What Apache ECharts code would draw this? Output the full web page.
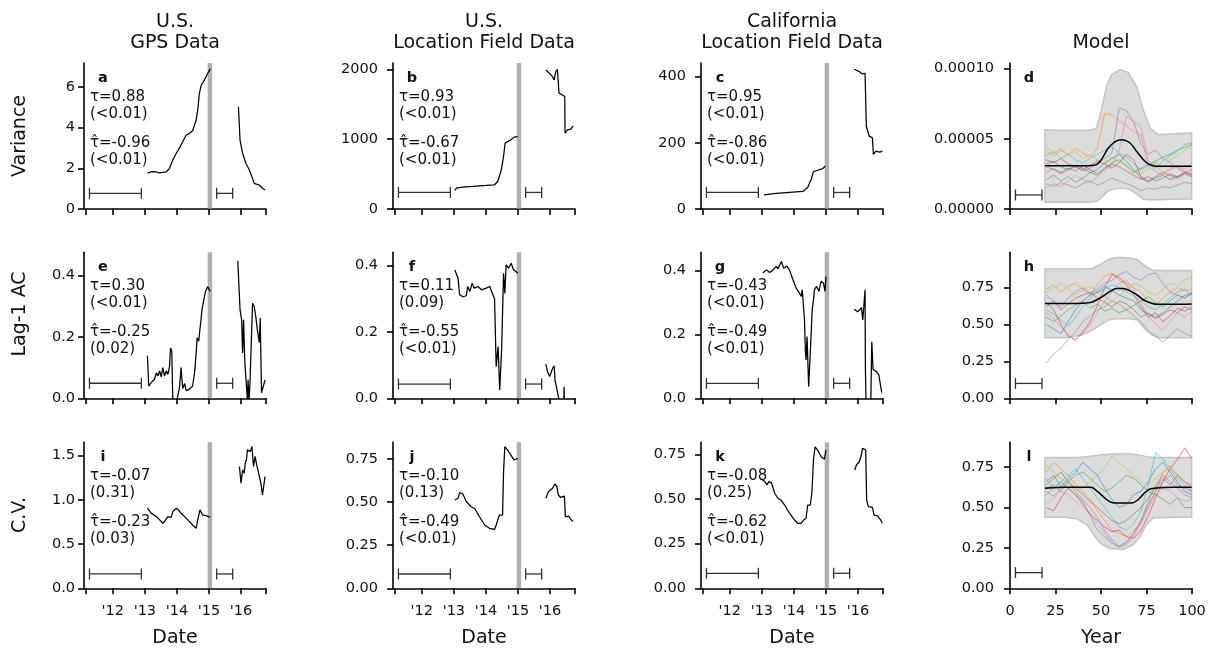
<!DOCTYPE html>
<html><head><meta charset="utf-8">
<script src="https://cdn.jsdelivr.net/npm/echarts@6/dist/echarts.min.js"></script>
<style>html,body{margin:0;padding:0;background:#fff}#c{width:1216px;height:649px}</style>
</head><body><div id="c"></div>
<script>
// ---------------- DATA ----------------
const colTitles1 = ['U.S.', 'U.S.', 'California', ''];
const colTitles2 = ['GPS Data', 'Location Field Data', 'Location Field Data', 'Model'];
const rowLabels = ['Variance', 'Lag-1 AC', 'C.V.'];
const xLabels = ['Date', 'Date', 'Date', 'Year'];
const letters = ['a','b','c','d','e','f','g','h','i','j','k','l'];

const dateRange = [2011.1, 2016.78];
const dateTicks = [2011.15, 2012, 2013, 2014, 2015, 2016, 2016.78];
const dateTickLabels = [2012, 2013, 2014, 2015, 2016];
const yearTicks = [0, 25, 50, 75, 100];
const outbreakBand = [2014.96, 2015.10];
const winTime = [[2011.27, 2012.89], [2015.24, 2015.74]];
const winModel = [[3, 17.6]];
const winLevels = [0.77, 237, 50, 1.0, 0.049, 0.043, 0.047, 0.101, 0.162, 0.083, 0.084, 0.097];

const tauVals = ['τ=0.88','τ=0.93','τ=0.95','', 'τ=0.30','τ=0.11','τ=-0.43','', 'τ=-0.07','τ=-0.10','τ=-0.08',''];
const tauPs = ['(<0.01)','(<0.01)','(<0.01)','', '(<0.01)','(0.09)','(<0.01)','', '(0.31)','(0.13)','(0.25)',''];
const tauHatVals = ['τ̂=-0.96','τ̂=-0.67','τ̂=-0.86','', 'τ̂=-0.25','τ̂=-0.55','τ̂=-0.49','', 'τ̂=-0.23','τ̂=-0.49','τ̂=-0.62',''];
const tauHatPs = ['(<0.01)','(<0.01)','(<0.01)','', '(0.02)','(<0.01)','(<0.01)','', '(0.03)','(<0.01)','(<0.01)',''];

const yTicksA = [0, 2, 4, 6];
const yTicksB = [0, 1000, 2000];
const yTicksC = [0, 200, 400];
const yTicksD = [0, 5, 10]; // units of 1e-5
const yTicksE = [0, 0.2, 0.4];
const yTicksH = [0, 0.25, 0.5, 0.75];
const yTicksI = [0, 0.5, 1.0, 1.5];
const yTicksJ = [0, 0.25, 0.5, 0.75];

// Variance
const aSeg1 = [[2013.08,1.76],[2013.20,1.84],[2013.36,1.82],[2013.46,1.78],[2013.55,1.80],[2013.67,1.83],[2013.77,2.0],[2013.87,2.41],[2013.98,2.74],[2014.08,2.99],[2014.18,3.31],[2014.29,3.64],[2014.39,3.72],[2014.49,3.85],[2014.60,4.38],[2014.65,4.87],[2014.70,5.69],[2014.76,6.10],[2014.86,6.35],[2014.95,6.64],[2015.04,6.89]];
const aSeg2 = [[2015.92,5.03],[2015.97,3.39],[2016.05,2.74],[2016.15,2.25],[2016.26,1.92],[2016.34,1.59],[2016.41,1.26],[2016.48,1.22],[2016.57,1.18],[2016.67,1.02],[2016.75,0.93]];
const bSeg1 = [[2013.03,266],[2013.08,300],[2013.28,314],[2013.59,323],[2014.01,337],[2014.27,347],[2014.37,394],[2014.48,561],[2014.55,751],[2014.60,943],[2014.68,966],[2014.78,990],[2014.88,1029],[2014.99,1037]];
const bSeg2 = [[2015.87,1990],[2015.98,1943],[2016.08,1894],[2016.13,1847],[2016.18,1966],[2016.23,2000],[2016.26,1800],[2016.28,1657],[2016.39,1633],[2016.46,1609],[2016.47,1086],[2016.54,1133],[2016.65,1143],[2016.72,1190]];
const cSeg1 = [[2013.06,43],[2013.45,47],[2013.86,50],[2014.28,53],[2014.43,65],[2014.54,90],[2014.61,113],[2014.74,117],[2014.90,122],[2014.98,130]];
const cSeg2 = [[2015.88,422],[2016.04,415],[2016.14,408],[2016.22,410],[2016.26,250],[2016.35,220],[2016.45,215],[2016.48,165],[2016.56,175],[2016.68,172],[2016.76,175]];
// Lag-1 AC
const eSeg1 = [[2013.08,0.139],[2013.12,0.040],[2013.20,0.051],[2013.30,0.062],[2013.36,0.083],[2013.41,0.073],[2013.46,0.089],[2013.51,0.070],[2013.56,0.100],[2013.61,0.073],[2013.67,0.089],[2013.72,0.078],[2013.77,0.105],[2013.80,0.164],[2013.84,0.154],[2013.87,0.0],[2013.98,-0.02],[2014.03,0.010],[2014.08,0.035],[2014.13,0.100],[2014.18,0.032],[2014.24,0.048],[2014.29,0.025],[2014.39,0.030],[2014.49,0.040],[2014.55,0.083],[2014.60,0.148],[2014.63,0.197],[2014.68,0.186],[2014.75,0.256],[2014.79,0.294],[2014.84,0.300],[2014.89,0.348],[2014.96,0.364],[2015.01,0.354],[2015.04,0.348]];
const eSeg2 = [[2015.90,0.448],[2015.97,0.289],[2016.02,0.256],[2016.05,0.148],[2016.08,0.256],[2016.12,0.116],[2016.17,0.040],[2016.20,-0.01],[2016.22,0.060],[2016.25,-0.01],[2016.28,0.050],[2016.36,0.310],[2016.41,0.300],[2016.46,0.267],[2016.51,0.224],[2016.57,0.181],[2016.60,0.262],[2016.64,0.018],[2016.70,0.018],[2016.75,0.060]];
const fSeg1 = [[2013.03,0.387],[2013.13,0.362],[2013.18,0.312],[2013.28,0.306],[2013.39,0.309],[2013.43,0.337],[2013.50,0.322],[2013.57,0.347],[2013.64,0.332],[2013.75,0.337],[2013.86,0.327],[2014.01,0.332],[2014.12,0.337],[2014.20,0.316],[2014.27,0.300],[2014.32,0.095],[2014.38,0.156],[2014.43,0.025],[2014.49,0.146],[2014.55,0.377],[2014.59,0.316],[2014.63,0.402],[2014.71,0.392],[2014.79,0.407],[2014.86,0.387],[2014.94,0.382],[2014.99,0.377]];
const fSeg2 = [[2015.87,0.103],[2015.92,0.081],[2015.99,0.066],[2016.08,0.090],[2016.13,0.098],[2016.16,0.050],[2016.20,0.035],[2016.26,0.005],[2016.30,-0.01],[2016.43,-0.01],[2016.44,0.035],[2016.45,-0.01]];
const gSeg1 = [[2013.03,0.392],[2013.14,0.402],[2013.24,0.394],[2013.35,0.402],[2013.45,0.413],[2013.50,0.405],[2013.61,0.428],[2013.68,0.407],[2013.78,0.414],[2013.86,0.402],[2013.97,0.371],[2014.07,0.345],[2014.17,0.329],[2014.23,0.319],[2014.26,0.340],[2014.33,0.245],[2014.36,0.141],[2014.38,0.120],[2014.41,0.193],[2014.46,0.036],[2014.51,0.141],[2014.57,0.277],[2014.61,0.308],[2014.64,0.340],[2014.71,0.350],[2014.78,0.335],[2014.85,0.366],[2014.92,0.361],[2014.97,0.335],[2015.00,0.381]];
const gSeg2 = [[2015.88,0.279],[2015.99,0.271],[2016.05,0.266],[2016.11,0.284],[2016.15,0.245],[2016.19,0.250],[2016.22,0.340],[2016.23,0.099],[2016.25,-0.01],[2016.40,-0.01],[2016.43,0.177],[2016.47,0.090],[2016.56,0.085],[2016.65,0.073],[2016.74,0.018]];
// C.V.
const iSeg1 = [[2013.08,0.905],[2013.20,0.848],[2013.36,0.810],[2013.46,0.773],[2013.56,0.735],[2013.62,0.760],[2013.67,0.773],[2013.72,0.810],[2013.77,0.829],[2013.82,0.800],[2013.87,0.867],[2013.92,0.850],[2013.98,0.905],[2014.05,0.886],[2014.13,0.848],[2014.24,0.810],[2014.34,0.773],[2014.49,0.716],[2014.60,0.679],[2014.65,0.773],[2014.72,0.886],[2014.80,0.829],[2014.91,0.822],[2015.04,0.803]];
const iSeg2 = [[2015.95,1.376],[2016.00,1.188],[2016.05,1.338],[2016.10,1.300],[2016.13,1.413],[2016.17,1.450],[2016.20,1.564],[2016.25,1.583],[2016.29,1.545],[2016.34,1.602],[2016.39,1.376],[2016.44,1.490],[2016.48,1.413],[2016.55,1.301],[2016.62,1.188],[2016.67,1.055],[2016.75,1.262]];
const jSeg1 = [[2013.03,0.512],[2013.13,0.522],[2013.18,0.555],[2013.28,0.547],[2013.39,0.502],[2013.54,0.473],[2013.65,0.463],[2013.80,0.415],[2013.96,0.367],[2014.11,0.348],[2014.27,0.342],[2014.32,0.367],[2014.38,0.367],[2014.42,0.425],[2014.52,0.425],[2014.55,0.676],[2014.59,0.821],[2014.68,0.802],[2014.78,0.773],[2014.88,0.744],[2014.99,0.754]];
const jSeg2 = [[2015.87,0.522],[2015.95,0.560],[2016.01,0.570],[2016.08,0.580],[2016.15,0.605],[2016.21,0.592],[2016.26,0.541],[2016.33,0.527],[2016.45,0.535],[2016.48,0.415],[2016.58,0.419],[2016.65,0.400],[2016.72,0.388]];
const kSeg1 = [[2012.95,0.615],[2013.09,0.597],[2013.16,0.579],[2013.22,0.597],[2013.30,0.590],[2013.40,0.532],[2013.50,0.504],[2013.60,0.494],[2013.71,0.466],[2013.86,0.420],[2014.02,0.382],[2014.12,0.364],[2014.23,0.364],[2014.30,0.382],[2014.38,0.392],[2014.43,0.466],[2014.51,0.466],[2014.56,0.532],[2014.61,0.718],[2014.66,0.792],[2014.74,0.773],[2014.85,0.736],[2014.95,0.722],[2015.00,0.774]];
const kSeg2 = [[2015.90,0.662],[2015.95,0.690],[2016.04,0.708],[2016.09,0.736],[2016.14,0.783],[2016.19,0.774],[2016.24,0.774],[2016.27,0.494],[2016.32,0.457],[2016.45,0.453],[2016.50,0.410],[2016.61,0.405],[2016.71,0.382],[2016.76,0.364]];

// Model panels
const modelX = [20,24,28,32,36,40,44,48,52,56,60,64,68,72,76,80,84,88,92,96,100];
// variance, units of 1e-5
const dRuns = [
 [3.2,3.4,3.0,2.8,3.1,2.9,2.6,2.8,3.3,3.6,3.9,3.4,2.8,2.2,1.9,2.2,2.4,2.1,2.3,2.6,2.5],
 [4.1,3.8,4.2,3.9,4.3,4.0,3.7,4.3,6.8,6.7,6.3,5.9,5.5,5.3,3.0,2.7,2.4,2.9,3.1,2.8,3.3],
 [2.1,2.4,2.0,2.3,1.9,2.2,2.6,2.4,2.9,3.3,3.5,3.1,2.6,2.9,3.2,3.4,3.7,3.9,4.2,4.4,4.6],
 [3.5,3.3,3.6,3.2,3.0,2.8,3.1,3.4,3.2,2.9,3.3,3.9,3.5,2.3,2.0,2.3,2.6,2.4,2.2,2.5,2.3],
 [2.6,2.9,2.5,2.8,3.0,2.7,2.9,3.3,3.6,4.0,7.2,7.0,6.2,4.6,3.9,4.2,3.6,3.3,2.9,2.6,2.8],
 [3.0,2.8,2.6,2.9,2.7,3.1,2.8,2.5,2.9,3.2,3.0,2.7,2.4,2.1,2.3,2.0,2.2,2.5,2.3,2.6,2.4],
 [1.5,1.8,1.6,2.0,2.4,2.1,1.9,2.3,2.7,3.1,4.2,6.6,6.2,5.9,3.4,3.1,2.6,2.8,3.0,2.7,2.5],
 [1.8,1.6,1.9,1.7,1.5,1.8,2.0,1.7,1.9,2.2,2.0,1.8,1.6,1.3,1.5,1.4,1.6,1.5,1.7,1.9,1.8],
 [4.4,4.0,4.3,3.8,4.1,3.6,3.9,3.5,3.2,3.7,3.4,3.0,2.7,2.5,2.9,3.3,3.0,3.5,3.8,4.2,4.5],
 [3.8,4.1,3.6,3.9,3.5,3.3,3.6,3.9,4.2,4.4,4.0,3.7,3.2,2.8,3.1,2.9,3.4,3.8,4.1,4.6,4.7]
];
const dEnvX = [19.2,30,40,45,47.6,50.3,53,55.8,60.4,64.9,69.5,73.2,76.9,81.5,90,99.8];
const dEnvLow = [0.48,0.48,0.48,0.5,0.55,0.8,1.2,1.38,1.5,1.45,1.1,0.7,0.66,0.66,0.7,0.71];
const dEnvHigh = [5.65,5.6,5.6,5.65,5.77,7.08,8.74,9.57,9.93,9.74,8.74,7.08,5.77,5.3,5.35,5.42];
const dMean = [[19.2,3.08],[30,3.08],[40,3.08],[45,3.1],[47.6,3.16],[49.5,3.4],[51.3,3.75],[54,4.35],[56.8,4.7],[59,4.88],[61.4,4.94],[63.5,4.88],[65.9,4.7],[68,4.4],[69.5,4.11],[71.5,3.8],[73.2,3.52],[75,3.3],[76.9,3.16],[80.6,3.04],[90,3.04],[99.8,3.04]];
// lag-1 AC
const hRuns = [
 [0.50,0.47,0.44,0.52,0.60,0.66,0.70,0.72,0.76,0.73,0.70,0.68,0.66,0.60,0.57,0.55,0.58,0.62,0.66,0.70,0.71],
 [0.74,0.77,0.72,0.76,0.78,0.74,0.70,0.77,0.83,0.85,0.80,0.78,0.75,0.72,0.66,0.63,0.68,0.72,0.75,0.73,0.74],
 [0.55,0.52,0.56,0.60,0.63,0.66,0.61,0.64,0.59,0.61,0.58,0.60,0.63,0.66,0.69,0.65,0.62,0.66,0.70,0.68,0.72],
 [0.65,0.60,0.50,0.42,0.40,0.45,0.52,0.63,0.75,0.84,0.82,0.77,0.70,0.62,0.55,0.58,0.52,0.56,0.61,0.59,0.62],
 [0.70,0.66,0.62,0.68,0.72,0.75,0.71,0.74,0.78,0.80,0.84,0.86,0.82,0.80,0.84,0.85,0.78,0.72,0.70,0.68,0.71],
 [0.62,0.66,0.60,0.64,0.68,0.70,0.72,0.68,0.65,0.62,0.66,0.64,0.60,0.55,0.58,0.54,0.57,0.60,0.58,0.62,0.60],
 [0.58,0.54,0.48,0.43,0.39,0.44,0.50,0.58,0.66,0.72,0.78,0.80,0.74,0.64,0.56,0.50,0.46,0.52,0.58,0.55,0.59],
 [0.24,0.30,0.34,0.40,0.45,0.52,0.56,0.60,0.62,0.66,0.64,0.60,0.56,0.52,0.46,0.42,0.38,0.43,0.47,0.44,0.42],
 [0.72,0.75,0.78,0.74,0.70,0.73,0.76,0.72,0.69,0.66,0.70,0.74,0.78,0.76,0.72,0.70,0.74,0.78,0.76,0.80,0.82],
 [0.60,0.57,0.53,0.49,0.55,0.62,0.68,0.72,0.74,0.77,0.75,0.72,0.70,0.66,0.62,0.60,0.64,0.68,0.72,0.74,0.70]
];
const hEnvX = [19.2,30,40,45,50,54,58,62,66,70,74,78,82,90,99.8];
const hEnvLow = [0.41,0.41,0.43,0.46,0.50,0.53,0.54,0.54,0.54,0.53,0.47,0.43,0.41,0.41,0.41];
const hEnvHigh = [0.876,0.876,0.876,0.88,0.91,0.94,0.955,0.955,0.95,0.94,0.90,0.87,0.866,0.866,0.866];
const hMean = [[19.2,0.642],[40,0.645],[45,0.652],[50,0.685],[55,0.725],[58.6,0.745],[62.3,0.745],[66,0.728],[70,0.70],[73,0.67],[76.9,0.648],[80.6,0.638],[90,0.638],[99.8,0.64]];
// C.V.
const lRuns = [
 [0.66,0.70,0.63,0.68,0.72,0.78,0.74,0.70,0.62,0.55,0.50,0.52,0.58,0.60,0.66,0.74,0.78,0.72,0.66,0.60,0.58],
 [0.72,0.78,0.74,0.70,0.64,0.60,0.55,0.48,0.42,0.36,0.34,0.32,0.36,0.40,0.50,0.60,0.72,0.76,0.70,0.66,0.64],
 [0.62,0.64,0.60,0.66,0.70,0.72,0.68,0.64,0.60,0.62,0.66,0.70,0.68,0.64,0.60,0.58,0.55,0.52,0.56,0.50,0.50],
 [0.50,0.48,0.56,0.62,0.58,0.52,0.46,0.42,0.38,0.35,0.36,0.32,0.31,0.36,0.45,0.56,0.66,0.74,0.80,0.87,0.80],
 [0.60,0.57,0.62,0.66,0.60,0.55,0.50,0.44,0.36,0.30,0.26,0.28,0.34,0.42,0.54,0.64,0.70,0.66,0.62,0.58,0.56],
 [0.64,0.68,0.72,0.66,0.62,0.58,0.54,0.50,0.46,0.42,0.40,0.42,0.46,0.50,0.56,0.62,0.68,0.64,0.70,0.66,0.62],
 [0.52,0.56,0.60,0.58,0.54,0.50,0.46,0.40,0.34,0.28,0.25,0.27,0.32,0.40,0.50,0.58,0.62,0.60,0.56,0.54,0.55],
 [0.58,0.62,0.66,0.62,0.58,0.54,0.45,0.36,0.32,0.28,0.26,0.29,0.34,0.42,0.52,0.60,0.66,0.70,0.64,0.62,0.60],
 [0.76,0.72,0.68,0.64,0.60,0.62,0.66,0.70,0.74,0.82,0.78,0.74,0.70,0.66,0.64,0.68,0.72,0.74,0.70,0.66,0.62],
 [0.68,0.62,0.66,0.70,0.74,0.68,0.62,0.56,0.50,0.44,0.38,0.36,0.40,0.48,0.64,0.84,0.80,0.74,0.68,0.64,0.60]
];
const lEnvX = [19.2,30,36.8,42.2,45.9,49.5,55,62.3,67.8,71.4,75,78.7,90,99.8];
const lEnvLow = [0.44,0.44,0.43,0.395,0.333,0.28,0.245,0.24,0.27,0.32,0.395,0.436,0.44,0.44];
const lEnvHigh = [0.81,0.81,0.81,0.815,0.82,0.825,0.83,0.835,0.83,0.825,0.815,0.81,0.81,0.81];
const lMean = [[19.2,0.62],[30,0.625],[40,0.625],[44.7,0.625],[48,0.60],[52,0.56],[55,0.535],[58,0.528],[62,0.528],[67,0.528],[70,0.545],[73,0.58],[76,0.61],[79,0.62],[90,0.625],[99.8,0.625]];

// ---------------- LAYOUT / STYLE ----------------
const FONT = '"DejaVu Sans", sans-serif';
const TXT = '#111';
const colsX = [84, 393, 701, 1010];
const rowsY = [63, 252.3, 442.3];
const rowLabelY = [136, 314, 515];
const yLabelMargin = [9, 15, 15, 16];
const GW = 182, GH = 146;
const runColors = ['#1f77b4','#ff7f0e','#2ca02c','#d62728','#9467bd','#8c564b','#e377c2','#7f7f7f','#bcbd22','#17becf'];

const panels = [
 {segs:[aSeg1,aSeg2], yMax:7.18, yTicks:yTicksA, fmt:v=>v.toFixed(0)},
 {segs:[bSeg1,bSeg2], yMax:2090, yTicks:yTicksB, fmt:v=>v.toFixed(0)},
 {segs:[cSeg1,cSeg2], yMax:441, yTicks:yTicksC, fmt:v=>v.toFixed(0)},
 {model:true, runs:dRuns, envX:dEnvX, envLow:dEnvLow, envHigh:dEnvHigh, mean:dMean, yMax:10.4, yTicks:yTicksD, fmt:v=>(v/100000).toFixed(5)},
 {segs:[eSeg1,eSeg2], yMax:0.476, yTicks:yTicksE, fmt:v=>v.toFixed(1)},
 {segs:[fSeg1,fSeg2], yMax:0.44, yTicks:yTicksE, fmt:v=>v.toFixed(1)},
 {segs:[gSeg1,gSeg2], yMax:0.457, yTicks:yTicksE, fmt:v=>v.toFixed(1)},
 {model:true, runs:hRuns, envX:hEnvX, envLow:hEnvLow, envHigh:hEnvHigh, mean:hMean, yMax:0.99, yTicks:yTicksH, fmt:v=>v.toFixed(2)},
 {segs:[iSeg1,iSeg2], yMax:1.65, yTicks:yTicksI, fmt:v=>v.toFixed(1)},
 {segs:[jSeg1,jSeg2], yMax:0.847, yTicks:yTicksJ, fmt:v=>v.toFixed(2)},
 {segs:[kSeg1,kSeg2], yMax:0.817, yTicks:yTicksJ, fmt:v=>v.toFixed(2)},
 {model:true, runs:lRuns, envX:lEnvX, envLow:lEnvLow, envHigh:lEnvHigh, mean:lMean, yMax:0.904, yTicks:yTicksJ, fmt:v=>v.toFixed(2)}
];

const grid = [], xAxis = [], yAxis = [], series = [], graphic = [];
const axLine = {show:true, onZero:false, lineStyle:{color:'#000', width:1.6}};
const tick = (vals) => ({show:true, length:6, inside:false, lineStyle:{color:'#000', width:1.6}, customValues:vals});

panels.forEach((p, i) => {
  const r = Math.floor(i / 4), c = i % 4;
  const L = colsX[c], T = rowsY[r];
  grid.push({left:L, top:T, width:GW, height:GH});
  const isModel = !!p.model;
  xAxis.push({
    gridIndex:i, type:'value',
    min: isModel ? 0 : dateRange[0], max: isModel ? 100 : dateRange[1],
    axisLine:axLine, axisTick:tick(isModel ? yearTicks : dateTicks), splitLine:{show:false},
    axisLabel:{show:r === 2, customValues: isModel ? yearTicks : dateTickLabels,
      formatter: isModel ? (v => String(v)) : (v => "'" + String(Math.round(v)).slice(2)),
      fontSize:14.5, fontFamily:FONT, color:TXT, margin:15}
  });
  yAxis.push({
    gridIndex:i, type:'value', min:0, max:p.yMax,
    axisLine:axLine, axisTick:tick(p.yTicks), splitLine:{show:false},
    axisLabel:{customValues:p.yTicks, formatter:p.fmt, fontSize:14.5, fontFamily:FONT, color:TXT, margin:yLabelMargin[c]}
  });

  if (isModel) {
    const envData = p.envX.map((x, k) => [x, p.envLow[k], p.envHigh[k]]);
    series.push({
      type:'custom', xAxisIndex:i, yAxisIndex:i, data:envData, silent:true, z:1,
      encode:{x:0, y:[1,2]},
      renderItem:(params, api) => {
        if (params.dataIndex !== 0) return null;
        const up = envData.map(d => api.coord([d[0], d[2]]));
        const lo = envData.map(d => api.coord([d[0], d[1]])).reverse();
        return {type:'polygon', shape:{points:up.concat(lo)},
          style:{fill:'#dcdcdc', stroke:'#c4c4c4', lineWidth:1.5}};
      }
    });
    p.runs.forEach((run, k) => {
      series.push({type:'line', xAxisIndex:i, yAxisIndex:i, z:2, silent:true,
        data: modelX.map((x, m) => [x, run[m]]), showSymbol:false, symbol:'none',
        lineStyle:{color:runColors[k], width:1, opacity:0.55}, animation:false});
    });
    series.push({type:'line', xAxisIndex:i, yAxisIndex:i, z:3, silent:true, data:p.mean,
      showSymbol:false, symbol:'none', smooth:0.3, lineStyle:{color:'#000', width:1.5}, animation:false});
  } else {
    p.segs.forEach((seg, k) => {
      const s = {type:'line', xAxisIndex:i, yAxisIndex:i, z:3, silent:true, data:seg,
        showSymbol:false, symbol:'none', clip:true, lineStyle:{color:'#000', width:1.25}, animation:false};
      if (k === 0) {
        s.markArea = {silent:true, itemStyle:{color:'rgba(150,150,150,0.75)'},
          data:[[{xAxis:outbreakBand[0]}, {xAxis:outbreakBand[1]}]]};
      }
      series.push(s);
    });
  }

  // window-length bars
  const wins = (isModel ? winModel : winTime).map(w => [w[0], w[1], winLevels[i]]);
  series.push({
    type:'custom', xAxisIndex:i, yAxisIndex:i, data:wins, silent:true, z:4,
    encode:{x:[0,1], y:2},
    renderItem:(params, api) => {
      const p1 = api.coord([api.value(0), api.value(2)]);
      const p2 = api.coord([api.value(1), api.value(2)]);
      const h = 5.5, st = {stroke:'#333', lineWidth:1.3};
      return {type:'group', children:[
        {type:'line', shape:{x1:p1[0], y1:p1[1], x2:p2[0], y2:p2[1]}, style:st},
        {type:'line', shape:{x1:p1[0], y1:p1[1]-h, x2:p1[0], y2:p1[1]+h}, style:st},
        {type:'line', shape:{x1:p2[0], y1:p2[1]-h, x2:p2[0], y2:p2[1]+h}, style:st}
      ]};
    }
  });

  // texts
  const txt = (s, x, y, opt) => graphic.push({type:'text', x, y, z:100, silent:true, rotation:(opt && opt.rot) || 0,
    style:Object.assign({text:s, fill:TXT, font:'15px ' + FONT, align:'left', textAlign:'left',
      verticalAlign:'middle', textVerticalAlign:'middle'}, (opt && opt.style) || {})});
  txt(letters[i], L + 19, T + 15, {style:{font:'bold 14.5px ' + FONT, align:'center', textAlign:'center'}});
  if (!isModel) {
    txt(tauVals[i], L + 6, T + 34);
    txt(tauPs[i], L + 6, T + 51);
    txt(tauHatVals[i], L + 6, T + 80);
    txt(tauHatPs[i], L + 6, T + 97);
  }
  if (r === 0) {
    if (colTitles1[c]) txt(colTitles1[c], L + GW/2, 22, {style:{font:'19px ' + FONT, align:'center', textAlign:'center'}});
    txt(colTitles2[c], L + GW/2, 43, {style:{font:'19px ' + FONT, align:'center', textAlign:'center'}});
  }
  if (r === 2) {
    txt(xLabels[c], L + GW/2, 638, {style:{font:'19px ' + FONT, align:'center', textAlign:'center'}});
  }
  if (c === 0) {
    txt(rowLabels[r], 20, rowLabelY[r], {rot:Math.PI/2, style:{font:'19px ' + FONT, align:'center', textAlign:'center'}});
  }
});

const chart = echarts.init(document.getElementById('c'), null, {renderer:'canvas'});
chart.setOption({animation:false, backgroundColor:'#fff', grid, xAxis, yAxis, series, graphic});
</script>
</body></html>
